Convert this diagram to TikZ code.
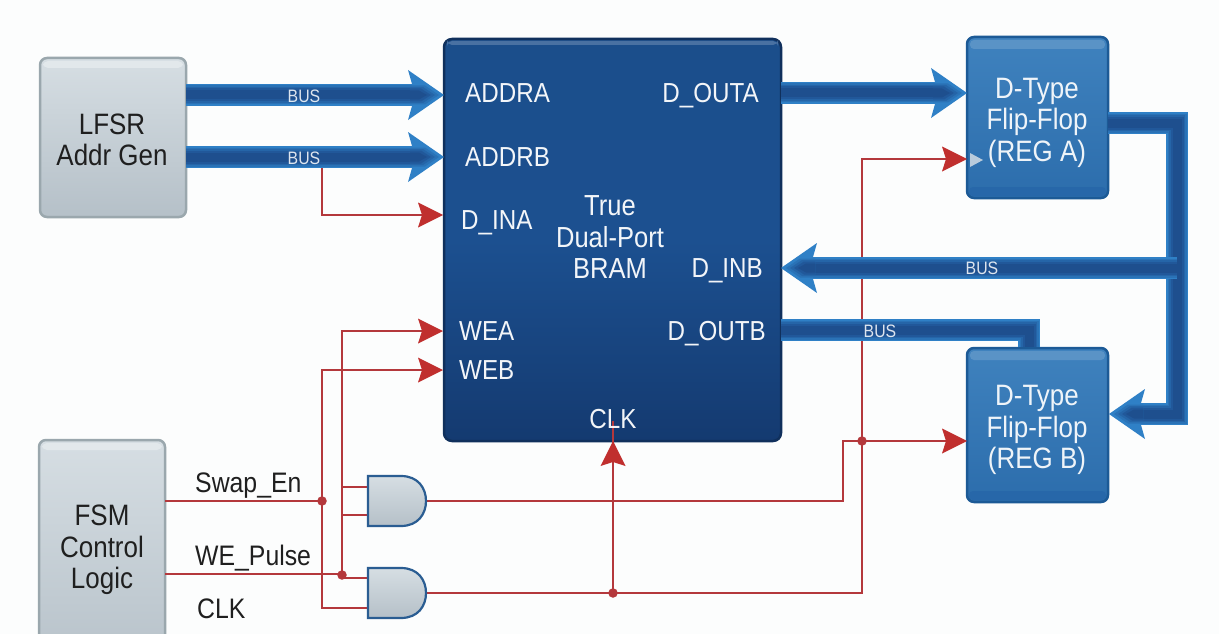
\documentclass[tikz,border=0pt]{standalone}
\usepackage{fontspec}
\setmainfont[FakeStretch=0.88]{Liberation Sans}
\usetikzlibrary{calc}
\definecolor{busA}{HTML}{2F80C6}
\definecolor{busB}{HTML}{2A72B6}
\definecolor{busC}{HTML}{2565A8}
\definecolor{busD}{HTML}{21589A}
\definecolor{busE}{HTML}{1E4F8E}
\definecolor{wire}{HTML}{B4383C}
\definecolor{headred}{HTML}{C02F2E}
\definecolor{regtop}{HTML}{3F82BE}
\definecolor{regbot}{HTML}{2C6DAC}
\definecolor{regband}{HTML}{5A93C6}
\definecolor{regedge}{HTML}{1C5A96}
\definecolor{bramtop}{HTML}{1B4E8B}
\definecolor{brammid}{HTML}{1C5090}
\definecolor{brambot}{HTML}{143A70}
\definecolor{bramedge}{HTML}{10305C}
\definecolor{greytop}{HTML}{D6DEE3}
\definecolor{greybot}{HTML}{B5C0C8}
\definecolor{greyedge}{HTML}{9AA7AD}
\definecolor{greyband}{HTML}{E2E8EB}
\definecolor{gateedge}{HTML}{2A5D92}
\definecolor{clockmark}{HTML}{B9CBDC}
\definecolor{paper}{HTML}{FCFDFD}
\newcommand{\busline}[1]{%
  \draw[line width=22pt,busA,miter limit=10] #1;
  \draw[line width=19pt,busB,miter limit=10] #1;
  \draw[line width=16pt,busC,miter limit=10] #1;
  \draw[line width=13pt,busD,miter limit=10] #1;
  \draw[line width=9pt,busE,miter limit=10] #1;
}
\tikzset{
  boxtext/.style={align=center,inner sep=0pt,font=\fontsize{29.5}{31.5}\selectfont},
  greybox/.style={draw=greyedge,line width=2.5pt,rounded corners=7pt,inner sep=0pt,outer sep=0pt,
    top color=greytop,bottom color=greybot},
  regbox/.style={draw=regedge,line width=2.5pt,rounded corners=7pt,inner sep=0pt,outer sep=0pt,
    top color=regtop,bottom color=regbot},
  brambox/.style={draw=bramedge,line width=2.5pt,rounded corners=8pt,inner sep=0pt,outer sep=0pt,
    top color=bramtop,bottom color=brambot,middle color=brammid},
  port/.style={text=white,text opacity=.95,inner sep=0pt,text height=19.6pt,text depth=0pt,font=\fontsize{27.5}{31}\selectfont},
  sig/.style={text=black!88,inner sep=0pt,text height=20pt,text depth=0pt,font=\fontsize{28.2}{31}\selectfont},
  buslabel/.style={text=white,text opacity=.85,inner sep=0pt,text height=12.9pt,text depth=0pt,font=\fontsize{18}{20}\selectfont},
  wireline/.style={draw=wire,line width=2.8pt},
  junction/.style={circle,fill=wire,inner sep=0pt,minimum size=9.5pt},
  gateanchor/.style={inner sep=0pt,outer sep=0pt,minimum width=58pt,minimum height=50pt},
  bushead/.pic={
    \fill[busA] (0,0) -- (-36,-25) -- (-32,-11) -- (-32,11) -- (-36,25) -- cycle;
    \fill[busB] (-5,0) -- (-19,-9.5) -- (-34,-9.5) -- (-34,9.5) -- (-19,9.5) -- cycle;
    \fill[busC] (-9,0) -- (-21,-8) -- (-34,-8) -- (-34,8) -- (-21,8) -- cycle;
    \fill[busD] (-13,0) -- (-23,-6.5) -- (-34,-6.5) -- (-34,6.5) -- (-23,6.5) -- cycle;
    \fill[busE] (-17,0) -- (-25,-4.5) -- (-34,-4.5) -- (-34,4.5) -- (-25,4.5) -- cycle;
  },
  redhead/.pic={
    \fill[headred] (0,0) -- (-25,-12.5) -- (-21,0) -- (-25,12.5) -- cycle;
  },
  andgate/.pic={
    \shade[top color=greytop,bottom color=greybot,draw=gateedge,line width=2.2pt]
      (-29,-25) -- (4,-25) .. controls (21,-25) and (29,-13) .. (29,0)
      .. controls (29,13) and (21,25) .. (4,25) -- (-29,25) -- cycle;
  },
}
\begin{document}
\begin{tikzpicture}[x=1pt,y=-1pt]
\useasboundingbox (0,0) rectangle (1219,634);
\begin{scope}
\clip (0,0) rectangle (1219,634);
\fill[paper] (0,0) rectangle (1219,634);
% level coordinates
\coordinate (la) at (0,95);
\coordinate (lb) at (0,157);
\coordinate (lc) at (0,93);
\coordinate (ld) at (0,268);
\coordinate (le) at (0,330);
% blocks
\node[greybox,minimum width=146pt,minimum height=159pt] (lfsr) at (113,137.5) {};
\node[greybox,minimum width=126pt,minimum height=240pt,anchor=north] (fsm) at (102,440) {};
\node[brambox,minimum width=337pt,minimum height=402pt] (bram) at (612.5,240) {};
\node[regbox,minimum width=141pt,minimum height=161pt] (rega) at (1037.5,117.5) {};
\node[regbox,minimum width=141pt,minimum height=154pt] (regb) at (1037.5,425) {};
\fill[regband,rounded corners=4pt] ([shift={(3,3)}]rega.north west) rectangle ([shift={(-3,12)}]rega.north east);
\fill[regband,rounded corners=4pt] ([shift={(3,3)}]regb.north west) rectangle ([shift={(-3,12)}]regb.north east);
\fill[busC,opacity=.7,rounded corners=4pt] ([shift={(2,-11)}]rega.south west) rectangle ([shift={(-2,-2)}]rega.south east);
\fill[busC,opacity=.7,rounded corners=4pt] ([shift={(2,-11)}]regb.south west) rectangle ([shift={(-2,-2)}]regb.south east);
\fill[greyband,rounded corners=5pt] ([shift={(3,3)}]lfsr.north west) rectangle ([shift={(-3,10)}]lfsr.north east);
\fill[greyband,rounded corners=5pt] ([shift={(3,3)}]fsm.north west) rectangle ([shift={(-3,10)}]fsm.north east);
\fill[bramtop!80!white,rounded corners=5pt] ([shift={(3,2)}]bram.north west) rectangle ([shift={(-3,6)}]bram.north east);
\node[boxtext,text=black!88] (lfsrtext) at (112,140) {LFSR\\Addr Gen};
\node[boxtext,text=black!88] (fsmtext) at (102,550) {FSM\\Control\\Logic};
\node[boxtext,text=white,text opacity=.92] (regatext) at (1037,122.5) {D-Type\\Flip-Flop\\(REG A)};
\node[boxtext,text=white,text opacity=.92] (regbtext) at (1037,430) {D-Type\\Flip-Flop\\(REG B)};
% gates
\node[gateanchor] (g1) at (397,501) {};
\node[gateanchor] (g2) at (397,593) {};
\coordinate (g1a) at (368,487);
\coordinate (g1b) at (368,515);
\coordinate (g2a) at (368,578);
\coordinate (g2b) at (368,608);
\coordinate (wea) at (443,331);
\coordinate (web) at (443,370);
\coordinate (dina) at (443,215);
\coordinate (swap) at (165,501);
\coordinate (wep) at (165,574);
\coordinate (clkb) at (613,441);
\coordinate (ra) at (967,159);
\coordinate (rb) at (967,441);
% wires
\draw[wireline] (322,168) |- ([xshift=-20pt]dina);
\draw[wireline] (swap) -- (322,501);
\draw[wireline] (wep) -- (342,574);
\draw[wireline] ([xshift=-20pt]web) -| (322,608) -- (g2b);
\draw[wireline] ([xshift=-20pt]wea) -| (342,574) |- (g2a);
\draw[wireline] (342,487) -- (g1a);
\draw[wireline] (g1b) -| (342,574);
\draw[wireline] (g1.east) -| (843,441) -- ([xshift=-20pt]rb);
\draw[wireline] (g2.east) -| (862,159) -- ([xshift=-20pt]ra);
\draw[wireline] (613,593) -- ([yshift=20pt]clkb);
\path (g1) pic {andgate};
\path (g2) pic {andgate};
\node[junction] (j1) at (322,501) {};
\node[junction] (j2) at (342,575) {};
\node[junction] (j3) at (862,441) {};
\node[junction] (j4) at (613,593) {};
% red heads
\path (dina) pic {redhead};
\path (wea) pic {redhead};
\path (web) pic {redhead};
\path (ra) pic {redhead};
\path (rb) pic {redhead};
\path (clkb) pic[rotate=90] {redhead};
% clock mark
\fill[clockmark] (970,153) -- (983,160) -- (970,167) -- cycle;
% buses
\busline{(lfsr.east |- la) -- (412,95)}
\busline{(lfsr.east |- lb) -- (412,157)}
\busline{(bram.east |- lc) -- (935,93)}
\busline{(rega.east |- 0,123) -- (1177,123) -- (1177,414) -- (1140,414)}
\busline{(1177,268) -- (812,268)}
\busline{(bram.east |- le) -- (1029,330) -- (1029,347)}
\path (bram.west |- la) pic {bushead};
\path (bram.west |- lb) pic {bushead};
\path (rega.west |- lc) pic {bushead};
\path (bram.east |- ld) pic[rotate=180] {bushead};
\path (1109,414) pic[rotate=180] {bushead};
% bus labels
\node[buslabel] (b1) at (304,96) {BUS};
\node[buslabel] (b2) at (304,158) {BUS};
\node[buslabel] (b3) at (982,268) {BUS};
\node[buslabel] (b4) at (880,331) {BUS};
% ports
\node[port,anchor=west] (p1) at (465,93) {ADDRA};
\node[port,anchor=west] (p2) at (465,157) {ADDRB};
\node[port,anchor=west] (p3) at (461,220) {D\_INA};
\node[port,anchor=west] (p4) at (459,331) {WEA};
\node[port,anchor=west] (p5) at (459,370) {WEB};
\node[port,anchor=east] (p6) at (759,93) {D\_OUTA};
\node[port,anchor=east] (p7) at (763,268) {D\_INB};
\node[port,anchor=east] (p8) at (766,331) {D\_OUTB};
\node[port] (p9) at (613,419) {CLK};
\node[text=white,text opacity=.95,inner sep=0pt,align=center,font=\fontsize{29}{31.5}\selectfont] (title) at (610,237.5) {True\\Dual-Port\\BRAM};
% signal labels
\node[sig,anchor=west] (s1) at (195,482) {Swap\_En};
\node[sig,anchor=west] (s2) at (195,555) {WE\_Pulse};
\node[sig,anchor=west] (s3) at (197,608) {CLK};
\end{scope}
\end{tikzpicture}
\end{document}
